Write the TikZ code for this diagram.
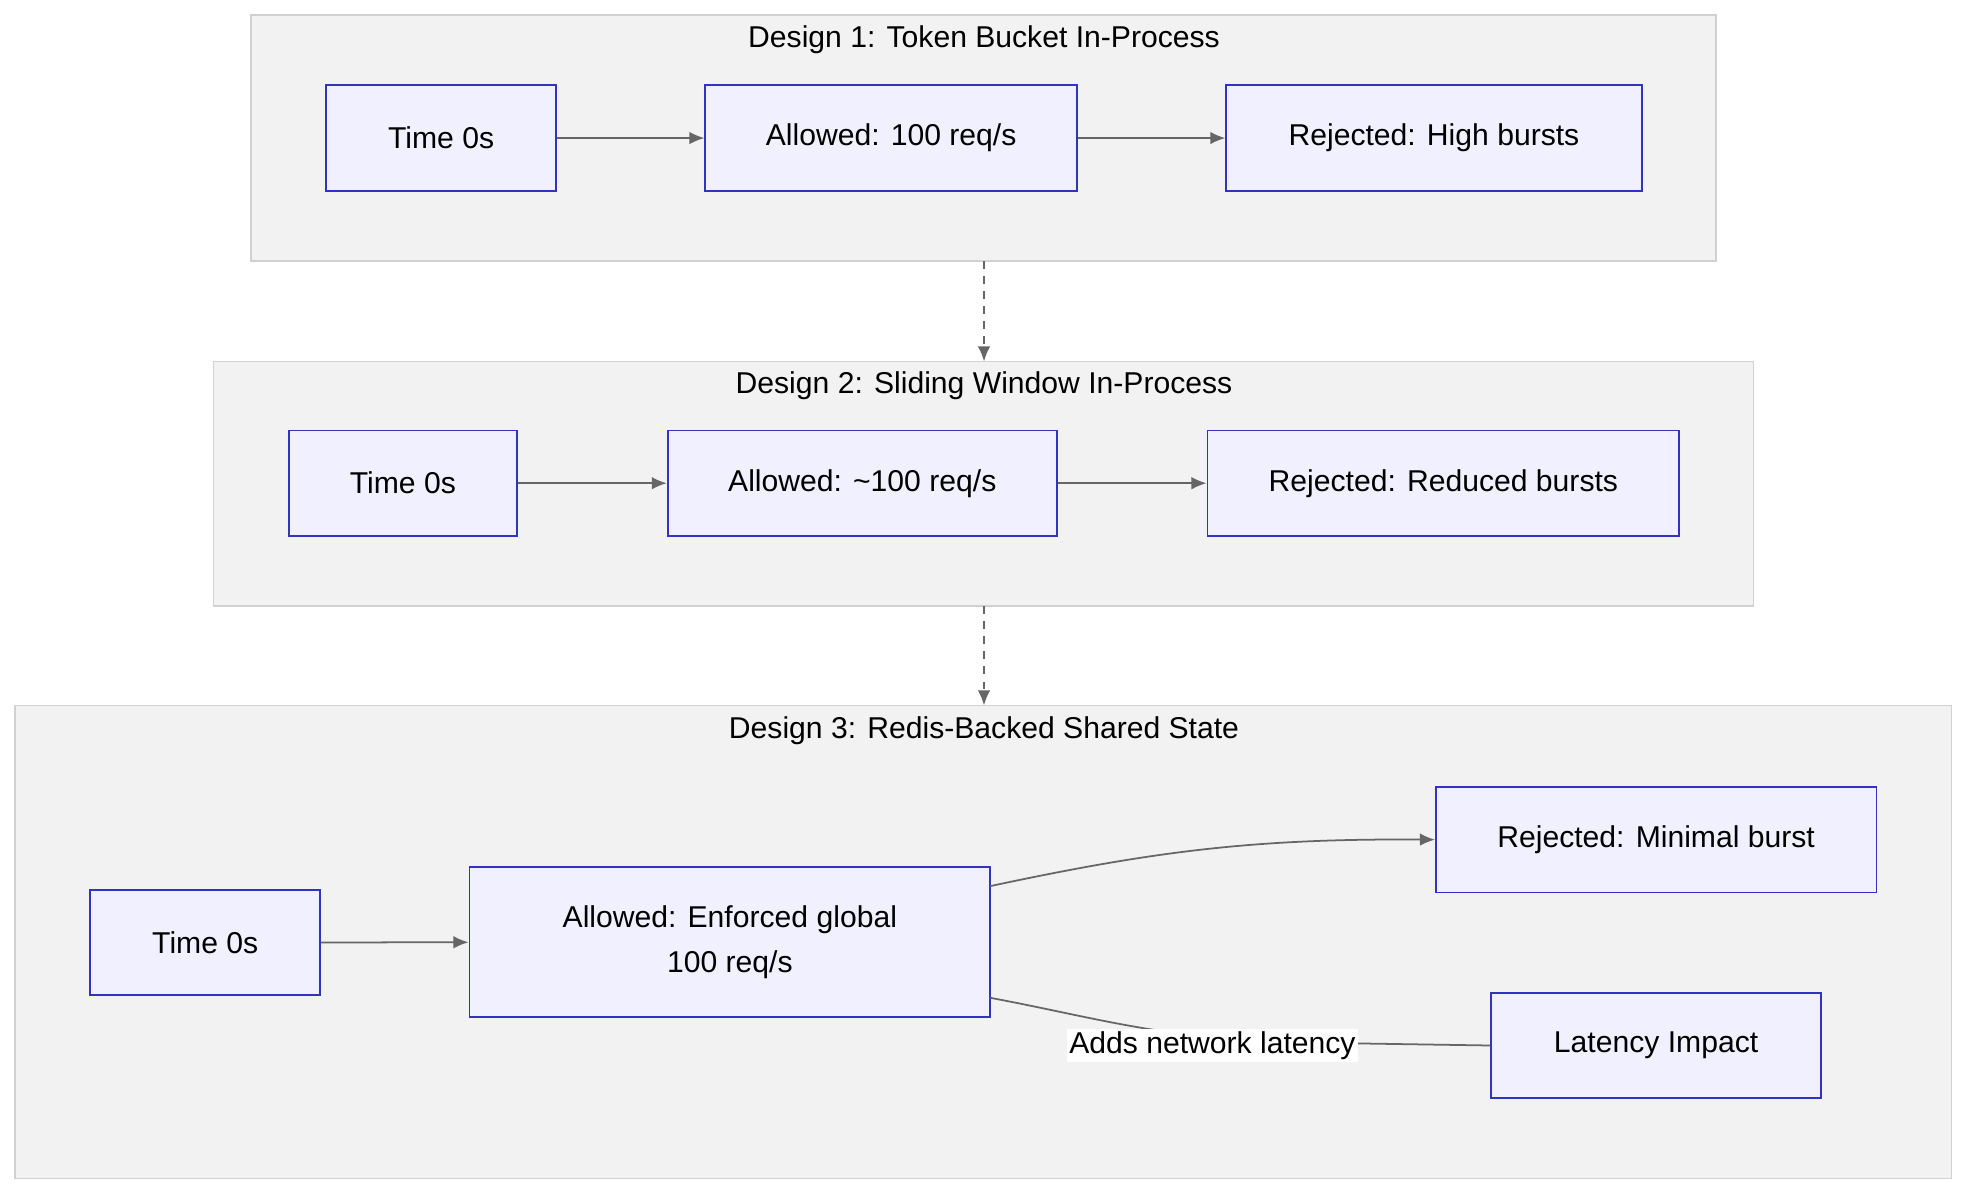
\documentclass[tikz,border=0pt]{standalone}
\usepackage{fontspec}
\setmainfont{Liberation Sans}
\usetikzlibrary{arrows.meta}
\begin{document}
\begin{tikzpicture}[x=0.5pt,y=-0.5pt,
  grp/.style={draw=black!18,fill=black!5,line width=0.6pt},
  box/.style={draw=blue!70!black!80,fill=blue!6,line width=0.7pt,inner sep=0pt,font=\fontsize{12pt}{15pt}\selectfont,align=center},
  ttl/.style={font=\fontsize{12pt}{15pt}\selectfont},
  arr/.style={draw=black!60,line width=0.7pt,-{Latex[length=6pt,width=5pt]}},
  darr/.style={arr,dashed}]
\useasboundingbox (0,0) rectangle (1568,952);
% groups
\draw[grp] (200,12) rectangle (1367,208);
\node[ttl] (t1) at (784,32) {Design 1: Token Bucket In-Process};
\draw[grp] (170,288) rectangle (1397,483);
\node[ttl] (t2) at (784,307) {Design 2: Sliding Window In-Process};
\draw[grp] (12,562) rectangle (1555,939);
\node[ttl] (t3) at (784,582) {Design 3: Redis-Backed Shared State};
\coordinate (g1b) at (784,208); \coordinate (g2t) at (784,288);
\coordinate (g2b) at (784,483); \coordinate (g3t) at (784,562);
\draw[darr] (g1b) -- (g2t);
\draw[darr] (g2b) -- (g3t);
% design 1
\node[box,minimum width=91.5pt,minimum height=42pt] (a1) at (351.5,110) {Time 0s};
\node[box,minimum width=148pt,minimum height=42pt] (b1) at (710,110) {Allowed: 100 req/s};
\node[box,minimum width=165.5pt,minimum height=42pt] (c1) at (1142.5,110) {Rejected: High bursts};
\draw[arr] (a1) -- (b1); \draw[arr] (b1) -- (c1);
% design 2
\node[box,minimum width=91pt,minimum height=42pt] (a2) at (321,385) {Time 0s};
\node[box,minimum width=155pt,minimum height=42pt] (b2) at (687,385) {Allowed: \textasciitilde100 req/s};
\node[box,minimum width=188pt,minimum height=42pt] (c2) at (1150,385) {Rejected: Reduced bursts};
\draw[arr] (a2) -- (b2); \draw[arr] (b2) -- (c2);
% design 3
\node[box,minimum width=91.5pt,minimum height=42pt] (a3) at (163.5,751) {Time 0s};
\node[box,minimum width=207.5pt,minimum height=59.5pt] (b3) at (581.5,750.5) {Allowed: Enforced global\\[3pt]100 req/s};
\node[box,minimum width=175.5pt,minimum height=42pt] (c3) at (1319.5,669) {Rejected: Minimal burst};
\node[box,minimum width=131.5pt,minimum height=42pt] (d3) at (1319.5,833) {Latency Impact};
\draw[arr] (a3) -- (b3);
\coordinate (b3r1) at (789,706); \coordinate (b3r2) at (789,795);
\draw[arr] (b3r1) .. controls (920,678) and (1000,668) .. (c3.west);
\draw[draw=black!60,line width=0.7pt] (b3r2) .. controls (880,812) and (930,830) .. (1060,831) -- (d3.west);
\node[fill=white,inner sep=1pt,font=\fontsize{12pt}{15pt}\selectfont] (lab) at (966,833) {Adds network latency};
\end{tikzpicture}
\end{document}
